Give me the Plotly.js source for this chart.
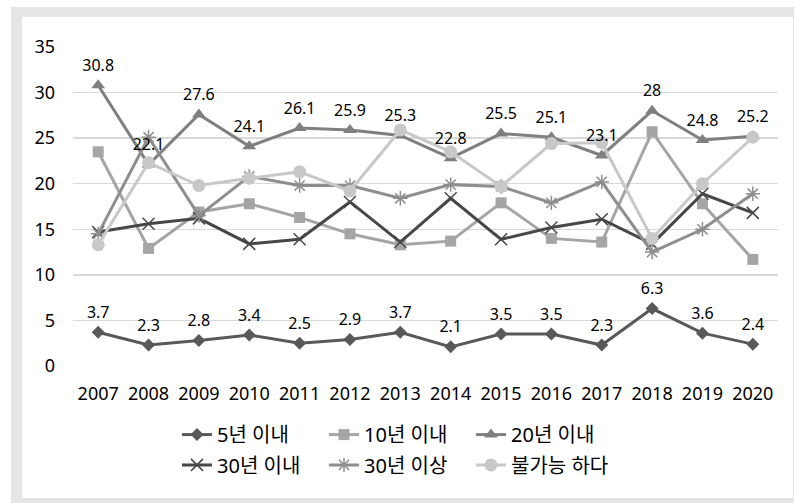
<!DOCTYPE html>
<html>
<head>
<meta charset="utf-8">
<script src="https://cdn.plot.ly/plotly-3.0.1.min.js"></script>
<style>
html,body{margin:0;padding:0;background:#fff;}
#chart{position:absolute;left:0;top:0;width:794px;height:503px;}
#frame{position:absolute;left:11px;top:7px;width:783px;height:496px;box-sizing:border-box;
border-left:11px solid #e4e5e7;border-top:10px solid #e4e5e7;border-bottom:5px solid #e4e5e7;border-right:1px solid #e4e5e7;pointer-events:none;}
</style>
</head>
<body>
<div id="chart"></div>
<div id="frame"></div>
<script>
const years = ['2007','2008','2009','2010','2011','2012','2013','2014','2015','2016','2017','2018','2019','2020'];
const within5 = [3.7,2.3,2.8,3.4,2.5,2.9,3.7,2.1,3.5,3.5,2.3,6.3,3.6,2.4];
const within10 = [23.5,12.9,16.9,17.8,16.3,14.5,13.3,13.7,17.9,14.0,13.6,25.7,17.8,11.7];
const within20 = [30.8,22.1,27.6,24.1,26.1,25.9,25.3,22.8,25.5,25.1,23.1,28,24.8,25.2];
const within30 = [14.7,15.6,16.2,13.4,13.9,18.0,13.6,18.4,13.9,15.2,16.1,13.4,18.9,16.8];
const over30 = [14.5,25.1,16.5,20.8,19.8,19.8,18.4,19.9,19.7,17.9,20.2,12.5,15.0,18.9];
const impossible = [13.3,22.3,19.8,20.6,21.3,19.2,25.9,23.5,19.7,24.4,24.5,14.0,20.0,25.1];
const names = ['5년 이내','10년 이내','20년 이내','30년 이내','30년 이상','불가능 하다'];
const yTicks = [0,5,10,15,20,25,30,35];

const FONT = 'Noto Sans, Noto Sans CJK KR, sans-serif';
function tr(y, name, color, symbol, msize, legend, mline){
  return {x: years, y: y, name: name, type:'scatter', mode:'lines+markers',
    line:{color:color, width:3},
    marker:{symbol:symbol, size:msize, color:color, line:{color:color, width: mline||0}},
    legend: legend, cliponaxis:false};
}
function labels(y){
  return {x: years, y: y, type:'scatter', mode:'markers+text', text: y.map(String),
    textposition:'top center', textfont:{family:FONT, size:16, color:'#000'},
    marker:{size:15, opacity:0}, showlegend:false, hoverinfo:'skip', cliponaxis:false};
}
const data = [
  tr(within5, names[0], '#595959', 'diamond', 10, 'legend'),
  tr(within10, names[1], '#a5a5a5', 'square', 11, 'legend'),
  tr(within20, names[2], '#7f7f7f', 'triangle-up', 12, 'legend'),
  tr(within30, names[3], '#474747', 'x-thin-open', 12, 'legend2', 1.5),
  tr(over30, names[4], '#8e8e8e', 'asterisk-open', 12, 'legend2', 1.5),
  tr(impossible, names[5], '#c8c8c8', 'circle', 13, 'legend2'),
  labels(within20),
  labels(within5)
];

const layout = {
  width:794, height:503,
  margin:{l:73, r:16, t:47, b:137},
  paper_bgcolor:'#fff', plot_bgcolor:'#fff',
  font:{family:FONT, size:18, color:'#000'},
  showlegend:true,
  xaxis:{type:'category', range:[-0.5,13.5], showgrid:false, zeroline:false, showline:false,
    ticks:'', tickfont:{size:18}, ticklabelstandoff:15, fixedrange:true},
  yaxis:{range:[0,35], tickvals:yTicks, ticktext:yTicks.map(String), showgrid:true, gridcolor:'#d9d9d9', gridwidth:1.5,
    zeroline:false, showline:false, ticks:'', tickfont:{size:18}, ticklabelstandoff:17, fixedrange:true},
  legend:{orientation:'h', x:(177-73)/705, xanchor:'left', y:-0.215, yanchor:'middle',
    entrywidth:102, font:{size:20}, bgcolor:'rgba(0,0,0,0)', itemwidth:30},
  legend2:{orientation:'h', x:(177-73)/705, xanchor:'left', y:-0.31, yanchor:'middle',
    entrywidth:102, font:{size:20}, bgcolor:'rgba(0,0,0,0)', itemwidth:30}
};
Plotly.newPlot('chart', data, layout, {displayModeBar:false, staticPlot:true});
</script>
</body>
</html>
